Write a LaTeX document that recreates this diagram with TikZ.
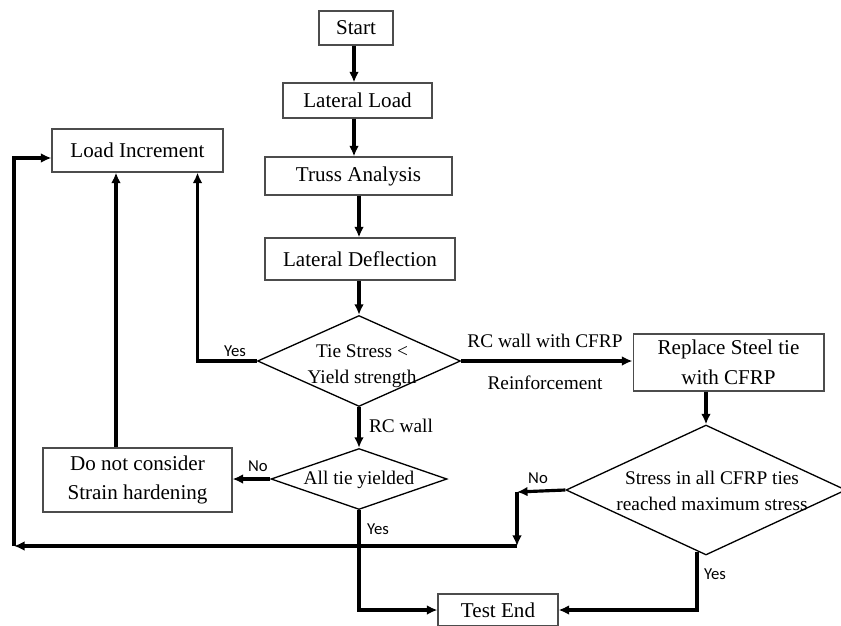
\documentclass[tikz,border=0pt]{standalone}
\usepackage{fontspec}
\setmainfont{Liberation Serif}
\newfontfamily\yesnofont{Carlito}
\usetikzlibrary{arrows.meta}
\usetikzlibrary{shapes.geometric}
\usetikzlibrary{calc}

\tikzset{
  box/.style = {draw=black!70, line width=0.6pt, inner sep=0pt, align=center,
    font=\fontsize{12}{17}\selectfont},
  decision/.style = {diamond, draw=black, line width=0.75pt, inner sep=0pt},
  dectext/.style = {align=center, font=\fontsize{11}{14.5}\selectfont},
  note/.style = {font=\fontsize{11}{13}\selectfont},
  branch/.style = {font=\yesnofont\fontsize{9.5}{11}\selectfont},
  flow/.style = {-{Latex[length=6pt,width=5.5pt]}, line width=1.8pt}
}

\begin{document}
\begin{tikzpicture}[x=0.02cm, y=-0.02cm]
    \useasboundingbox (0,0) rectangle (841,625);

    % main column
    \node [box, minimum width=1.48cm, minimum height=0.68cm] (start) at (356,28) {Start};
    \node [box, minimum width=2.98cm, minimum height=0.70cm] (load) at (357.5,100.5) {Lateral Load};
    \node [box, minimum width=3.74cm, minimum height=0.76cm] (truss) at (358.5,176) {Truss Analysis};
    \node [box, minimum width=3.80cm, minimum height=0.84cm] (defl) at (360,259) {Lateral Deflection};
    \node [decision, minimum width=4.06cm, minimum height=1.82cm] (tie) at (359,361) {};
    \node [dectext] (tietext) at (362,366) {Tie Stress <\\Yield strength};
    \node [decision, minimum width=3.52cm, minimum height=1.22cm] (yielded) at (359,479) {};
    \node [dectext] (yieldedtext) at (359,480) {All tie yielded};
    \node [box, minimum width=2.40cm, minimum height=0.64cm] (testend) at (498,610) {Test End};

    % left side
    \node [box, minimum width=3.42cm, minimum height=0.86cm] (incr) at (137.5,150.5) {Load Increment};
    \node [box, minimum width=3.78cm, minimum height=1.28cm] (hard) at (137.5,480) {Do not consider\\Strain hardening};

    % CFRP branch
    \node [box, minimum width=3.82cm, minimum height=1.14cm] (replace) at (728.5,362.5) {Replace Steel tie\\with CFRP};
    \node [decision, minimum width=5.60cm, minimum height=2.60cm] (cfrp) at (706,490) {};
    \node [dectext] (cfrptext) at (712,491) {Stress in all CFRP ties\\reached maximum stress};

    \coordinate (nocorner) at (517,492);
    \coordinate (nodrop) at (517,546);
    \coordinate (backcorner) at (14,546);

    \draw [flow] ($(start.south)+(-2,0)$) -- ($(load.north)+(-3.5,0)$);
    \draw [flow] ($(load.south)+(-3.5,0)$) -- ($(truss.north)+(-4.5,0)$);
    \draw [flow] (truss.south -| tie.north) -- (tie.north |- defl.north);
    \draw [flow] (tie.north |- defl.south) -- (tie.north);
    \draw [flow] (tie.west) -| ($(incr.south east)+(-26,0)$);
    \draw [flow] (tie.east) -- (tie.east -| replace.west);
    \draw [flow] (tie.south) -- (yielded.north);
    \draw [flow] (yielded.west) -- (yielded.west -| hard.east);
    \draw [flow] ($(hard.north)+(-21.5,0)$) -- ($(incr.south)+(-21.5,0)$);
    \draw [flow] (yielded.south) |- (testend.west);
    \draw [flow] (replace.south -| cfrp.north) -- (cfrp.north);
    \draw [flow] ($(cfrp.south)+(-9,-4)$) |- (testend.east);
    % back to load increment
    \draw [flow] (cfrp.west) -- (nocorner);
    \draw [flow] (nocorner) -- (nodrop);
    \draw [flow] (nodrop) -- (backcorner);
    \draw [flow] (backcorner) |- ($(incr.west)+(0,7.5)$);

    % labels
    \node [branch] (yestie) at (235,351) {Yes};
    \node [note] (withcfrp) at (545,341) {RC wall with CFRP};
    \node [note] (reinf) at (545,383) {Reinforcement};
    \node [note] (rcwall) at (401,426) {RC wall};
    \node [branch] (noyielded) at (258,466) {No};
    \node [branch] (yesyielded) at (378,529) {Yes};
    \node [branch] (nocfrp) at (538,478) {No};
    \node [branch] (yescfrp) at (715,574) {Yes};
\end{tikzpicture}
\end{document}
